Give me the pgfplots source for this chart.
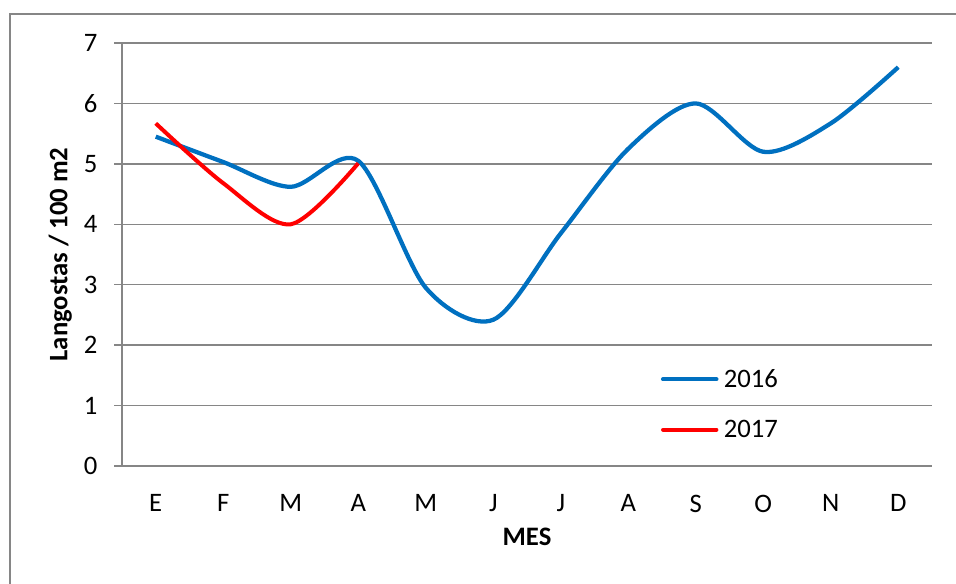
\documentclass[border=0pt]{standalone}
\usepackage{fontspec}
\setmainfont{Carlito}
\usepackage{pgfplots}
\pgfplotsset{compat=1.18}
\definecolor{gridgray}{HTML}{868686}
\definecolor{xlblue}{HTML}{0070C0}
\begin{document}
\begin{tikzpicture}
\path[use as bounding box] (0,0) rectangle (717pt,438pt);
\clip (0,0) rectangle (717pt,438pt);
\draw[gridgray, line width=1pt] (7.5pt,-10pt) rectangle (730pt,427.5pt);
\begin{axis}[
  at={(91.5pt,88.5pt)}, anchor=south west,
  scale only axis, width=607.5pt, height=317.25pt,
  xmin=-0.5, xmax=11.5, ymin=0, ymax=7,
  xtick={0,...,11}, xticklabels={E,F,M,A,M,J,J,A,S,O,N,D},
  ytick={0,...,7},
  axis x line*=bottom, axis y line*=left,
  ymajorgrids, grid style={gridgray, line width=1pt},
  axis line style={gridgray, line width=1pt},
  xtick style={draw=none},
  ytick style={gridgray, line width=1pt},
  major tick length=6pt, tick align=outside,
  /pgf/number format/assume math mode=true,
  tick label style={font=\fontsize{20}{24}\selectfont, text=black},
  yticklabel style={xshift=-9pt},
  xticklabel style={yshift=-12pt},
  label style={font=\bfseries\fontsize{20}{24}\selectfont},
  xlabel={MES}, ylabel={Langostas / 100 m2},
  xlabel style={at={(axis description cs:0.5,-0.1364)}, anchor=north},
  ylabel style={at={(axis description cs:-0.056,0.5)}, anchor=south},
  legend style={draw=none, fill=none, font=\fontsize{20}{24}\selectfont,
    at={(axis description cs:0.665,0.2355)}, anchor=north west, inner sep=0pt,
    row sep=19pt, column sep=2pt},
  legend cell align=left,
  legend image code/.code={\draw[#1, line cap=round] (0pt,0pt) -- (40pt,0pt);},
]
\addplot[xlblue, line width=3.2pt, smooth] coordinates {(0,5.45)(1,5.03)(2,4.62)(3,5.05)(4,2.95)(5,2.42)(6,3.85)(7,5.25)(8,6.0)(9,5.2)(10,5.67)(11,6.6)};
\addlegendentry{2016}
\addplot[red, line width=3pt, smooth] coordinates {(0,5.67)(1,4.68)(2,4.0)(3,5.01)};
\addlegendentry{2017}
\end{axis}
\end{tikzpicture}
\end{document}
